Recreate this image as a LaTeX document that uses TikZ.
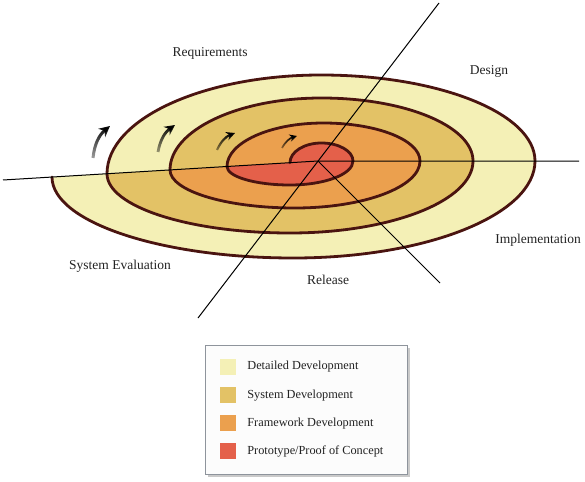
\documentclass[tikz,border=0pt]{standalone}
\usepackage{fontspec}
\setmainfont{Liberation Serif}
\usetikzlibrary{arrows.meta, positioning, shadows, fadings}
\definecolor{detailfill}{HTML}{F4F0B6}
\definecolor{systemfill}{HTML}{E3C266}
\definecolor{framefill}{HTML}{EBA04E}
\definecolor{protofill}{HTML}{E4604A}
\definecolor{spiralline}{HTML}{4A1410}
\definecolor{legendedge}{HTML}{8E949C}
\definecolor{labeltext}{HTML}{222222}

\tikzfading[name=tailfade, top color=transparent!0, bottom color=transparent!65]

% half turns of the spiral (pixel coordinates, y grows downwards)
\newcommand{\spTopA}{.. controls (290,151.8) and (304.1,143) .. (321.5,143) .. controls (338.9,143) and (353,151.1) .. (353,161)}
\newcommand{\spBotA}{.. controls (353,174.3) and (324.8,185) .. (290,185) .. controls (255.2,185) and (227,176.7) .. (227,166.5)}
\newcommand{\spTopB}{.. controls (227,142.5) and (270.2,123) .. (323.5,123) .. controls (376.8,123) and (420,140) .. (420,161)}
\newcommand{\spBotB}{.. controls (420,187) and (364,208) .. (295,208) .. controls (226,208) and (170,190.9) .. (170,169.9)}
\newcommand{\spTopC}{.. controls (170,130.2) and (237.8,98) .. (321.5,98) .. controls (405.2,98) and (473,126.2) .. (473,161)}
\newcommand{\spBotC}{.. controls (473,200.8) and (391.1,233) .. (290,233) .. controls (188.9,233) and (107,206.5) .. (107,173.7)}
\newcommand{\spTopD}{.. controls (107,119.2) and (202.8,75) .. (321,75) .. controls (439.2,75) and (535,113.5) .. (535,161)}
\newcommand{\spBotD}{.. controls (535,214.6) and (426.9,258) .. (293.5,258) .. controls (160.1,258) and (52,221.7) .. (52,177)}

\begin{document}
\begin{tikzpicture}[x=1pt, y=-1pt,
		spiral/.style={draw=spiralline, line width=2.8pt, line join=round, line cap=round},
		axis/.style={draw=black, line width=1pt},
		flowarrow/.style={line width=#1, -{Stealth[length=3pt 2.6, width=3pt 2.6]}, path fading=tailfade},
		phase/.style={font=\fontsize{13.5}{16}\selectfont, text=labeltext},
		legendbox/.style={draw=legendedge, fill=white!99!black, line width=1pt,
			minimum width=202pt, minimum height=129pt,
			drop shadow={shadow xshift=2.5pt, shadow yshift=-2.5pt, opacity=0.35, fill=black!60}},
		legsq/.style={minimum size=16pt, inner sep=0pt},
		legtext/.style={font=\fontsize{12.3}{14}\selectfont, text=labeltext, inner sep=0pt}]
	\useasboundingbox (0,0) rectangle (585,481);

	% start points of the turns, on the left axis
	\coordinate (sA) at (290,162.7);
	\coordinate (sB) at (227,166.5);
	\coordinate (sC) at (170,169.9);
	\coordinate (sD) at (107,173.7);

	% coloured bands, outer first
	\fill[detailfill] (sD) \spTopD \spBotD -- cycle;
	\fill[systemfill] (sC) \spTopC \spBotC -- cycle;
	\fill[framefill] (sB) \spTopB \spBotB -- cycle;
	\fill[protofill] (sA) \spTopA \spBotA -- cycle;

	\draw[spiral] (sA) \spTopA \spBotA \spTopB \spBotB \spTopC \spBotC \spTopD \spBotD;

	% phase axes
	\coordinate (ctr) at (318,161);
	\coordinate (westend) at (3,180);
	\coordinate (eastend) at (579,161);
	\coordinate (nne) at (439,3);
	\coordinate (ssw) at (198,318);
	\coordinate (sse) at (440,283);
	\draw[axis] (westend) -- (ctr) -- (eastend);
	\draw[axis] (ssw) -- (nne);
	\draw[axis] (ctr) -- (sse);

	% direction arrows
	\coordinate (arA1) at (93,158);  \coordinate (arA2) at (110,126);
	\coordinate (arB1) at (158,152); \coordinate (arB2) at (175,125);
	\coordinate (arC1) at (217,150); \coordinate (arC2) at (235,133);
	\coordinate (arD1) at (282,148); \coordinate (arD2) at (297,136);
	\draw[flowarrow=3pt] (arA1) to[bend left=22] (arA2);
	\draw[flowarrow=2.8pt] (arB1) to[bend left=22] (arB2);
	\draw[flowarrow=2.2pt] (arC1) to[bend left=22] (arC2);
	\draw[flowarrow=1.7pt] (arD1) to[bend left=22] (arD2);

	\node[phase] (req) at (210,53) {Requirements};
	\node[phase] (des) at (489,71) {Design};
	\node[phase] (impl) at (538,240) {Implementation};
	\node[phase] (rel) at (328,280) {Release};
	\node[phase] (syseval) at (120,266) {System Evaluation};

	% legend
	\node[legendbox] (legend) at (306,409.5) {};
	\node[legsq, fill=detailfill] (sqdetail) at (228,367) {};
	\node[legsq, fill=systemfill, below=11.7pt of sqdetail] (sqsystem) {};
	\node[legsq, fill=framefill, below=11.7pt of sqsystem] (sqframe) {};
	\node[legsq, fill=protofill, below=11.7pt of sqframe] (sqproto) {};
	\node[legtext, right=11pt of sqdetail] (txdetail) {Detailed Development};
	\node[legtext, right=11pt of sqsystem] (txsystem) {System Development};
	\node[legtext, right=11pt of sqframe] (txframe) {Framework Development};
	\node[legtext, right=11pt of sqproto] (txproto) {Prototype/Proof of Concept};
\end{tikzpicture}
\end{document}
